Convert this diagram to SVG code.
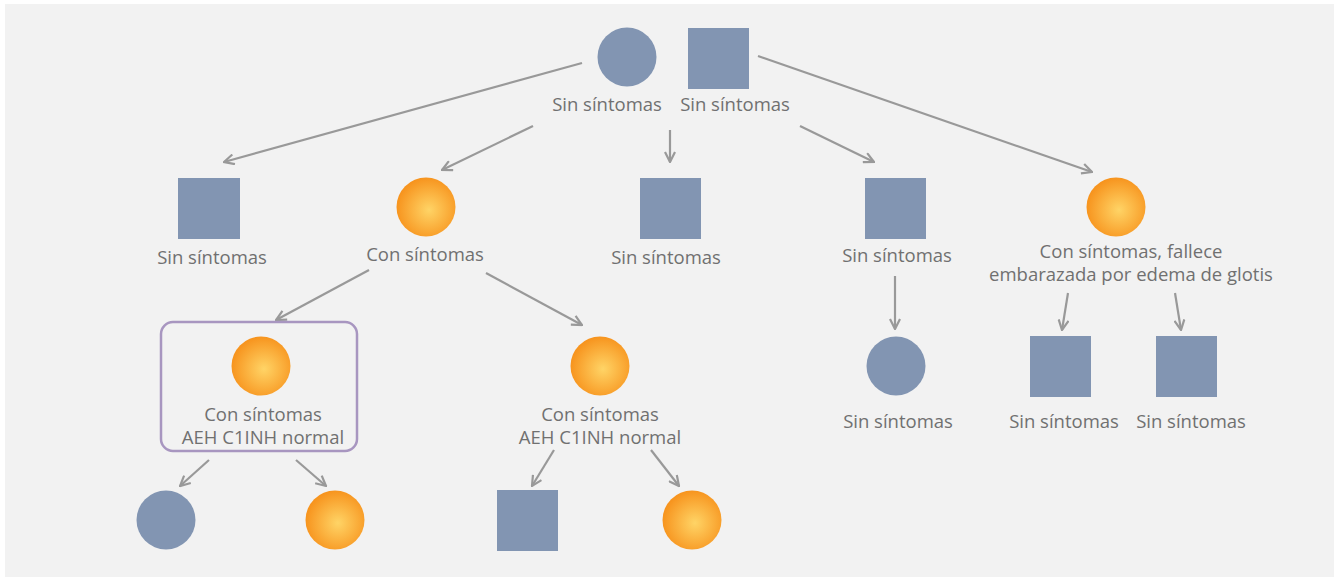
<svg xmlns="http://www.w3.org/2000/svg" width="1334" height="577" viewBox="0 0 1334 577">
  <defs>
    <radialGradient id="orange" cx="0.55" cy="0.55" r="0.55">
      <stop offset="0" stop-color="#ffd466"/>
      <stop offset="1" stop-color="#f7941e"/>
    </radialGradient>
    <marker id="arrow" viewBox="0 0 12 12" refX="11" refY="6" markerWidth="12" markerHeight="12" markerUnits="userSpaceOnUse" orient="auto">
      <path d="M1,1 L11,6 L1,11" fill="none" stroke="#999999" stroke-width="2.2"/>
    </marker>
  </defs>
  <style>
    .bg { fill: #f2f2f2; }
    .male { fill: #8295b2; }
    .female { fill: #8295b2; }
    .affected { fill: url(#orange); }
    .label { font-family: "Open Sans", "Liberation Sans", sans-serif; font-size: 18.5px; fill: #707070; text-anchor: middle; }
    .edge { stroke: #999999; stroke-width: 2.2; fill: none; marker-end: url(#arrow); }
    .frame { fill: none; stroke: #a896c0; stroke-width: 2.5; }
  </style>

  <rect class="bg" x="5" y="4" width="1329" height="573"/>

  <!-- connectors -->
  <g id="connectors">
    <line class="edge" x1="582" y1="63" x2="224" y2="162"/>
    <line class="edge" x1="533" y1="126" x2="442" y2="170"/>
    <line class="edge" x1="670" y1="130" x2="670" y2="162"/>
    <line class="edge" x1="800" y1="126" x2="874" y2="162"/>
    <line class="edge" x1="758" y1="56" x2="1092" y2="172"/>
    <line class="edge" x1="369" y1="270" x2="276" y2="320"/>
    <line class="edge" x1="486" y1="273" x2="582" y2="325"/>
    <line class="edge" x1="895" y1="276" x2="895" y2="329"/>
    <line class="edge" x1="1068" y1="293" x2="1062" y2="330"/>
    <line class="edge" x1="1175" y1="293" x2="1181" y2="330"/>
    <line class="edge" x1="209" y1="460" x2="180" y2="486"/>
    <line class="edge" x1="296" y1="460" x2="326" y2="486"/>
    <line class="edge" x1="554" y1="450" x2="532" y2="486"/>
    <line class="edge" x1="651" y1="450" x2="679" y2="486"/>
  </g>

  <!-- generation I -->
  <g id="g1-mother">
    <circle class="female" cx="627" cy="57" r="29.5"/>
    <text class="label" x="607" y="111">Sin síntomas</text>
  </g>
  <g id="g1-father">
    <rect class="male" x="688" y="28" width="61" height="61"/>
    <text class="label" x="735" y="111">Sin síntomas</text>
  </g>

  <!-- generation II -->
  <g id="g2-son1">
    <rect class="male" x="178" y="178" width="62" height="61"/>
    <text class="label" x="212" y="264">Sin síntomas</text>
  </g>
  <g id="g2-daughter1">
    <circle class="affected" cx="426" cy="207" r="29.5"/>
    <text class="label" x="425" y="261">Con síntomas</text>
  </g>
  <g id="g2-son2">
    <rect class="male" x="640" y="178" width="61" height="61"/>
    <text class="label" x="666" y="264">Sin síntomas</text>
  </g>
  <g id="g2-son3">
    <rect class="male" x="865" y="178" width="61" height="61"/>
    <text class="label" x="897" y="262">Sin síntomas</text>
  </g>
  <g id="g2-daughter2">
    <circle class="affected" cx="1116" cy="207" r="29.5"/>
    <text class="label" x="1131" y="258">Con síntomas, fallece</text>
    <text class="label" x="1131" y="281">embarazada por edema de glotis</text>
  </g>

  <!-- generation III -->
  <g id="g3-proband">
    <rect class="frame" x="161" y="322" width="196" height="129" rx="12"/>
    <circle class="affected" cx="261" cy="366" r="29.5"/>
    <text class="label" x="263" y="421">Con síntomas</text>
    <text class="label" x="263" y="444">AEH C1INH normal</text>
  </g>
  <g id="g3-daughter2">
    <circle class="affected" cx="600" cy="366" r="29.5"/>
    <text class="label" x="600" y="421">Con síntomas</text>
    <text class="label" x="600" y="444">AEH C1INH normal</text>
  </g>
  <g id="g3-daughter3">
    <circle class="female" cx="896" cy="366" r="29.5"/>
    <text class="label" x="898" y="428">Sin síntomas</text>
  </g>
  <g id="g3-son1">
    <rect class="male" x="1030" y="336" width="61" height="61"/>
    <text class="label" x="1064" y="428">Sin síntomas</text>
  </g>
  <g id="g3-son2">
    <rect class="male" x="1156" y="336" width="61" height="61"/>
    <text class="label" x="1191" y="428">Sin síntomas</text>
  </g>

  <!-- generation IV -->
  <g id="g4-daughter1">
    <circle class="female" cx="166" cy="520" r="29.5"/>
  </g>
  <g id="g4-daughter2">
    <circle class="affected" cx="335" cy="520" r="29.5"/>
  </g>
  <g id="g4-son1">
    <rect class="male" x="497" y="490" width="61" height="61"/>
  </g>
  <g id="g4-daughter3">
    <circle class="affected" cx="692" cy="520" r="29.5"/>
  </g>
</svg>
